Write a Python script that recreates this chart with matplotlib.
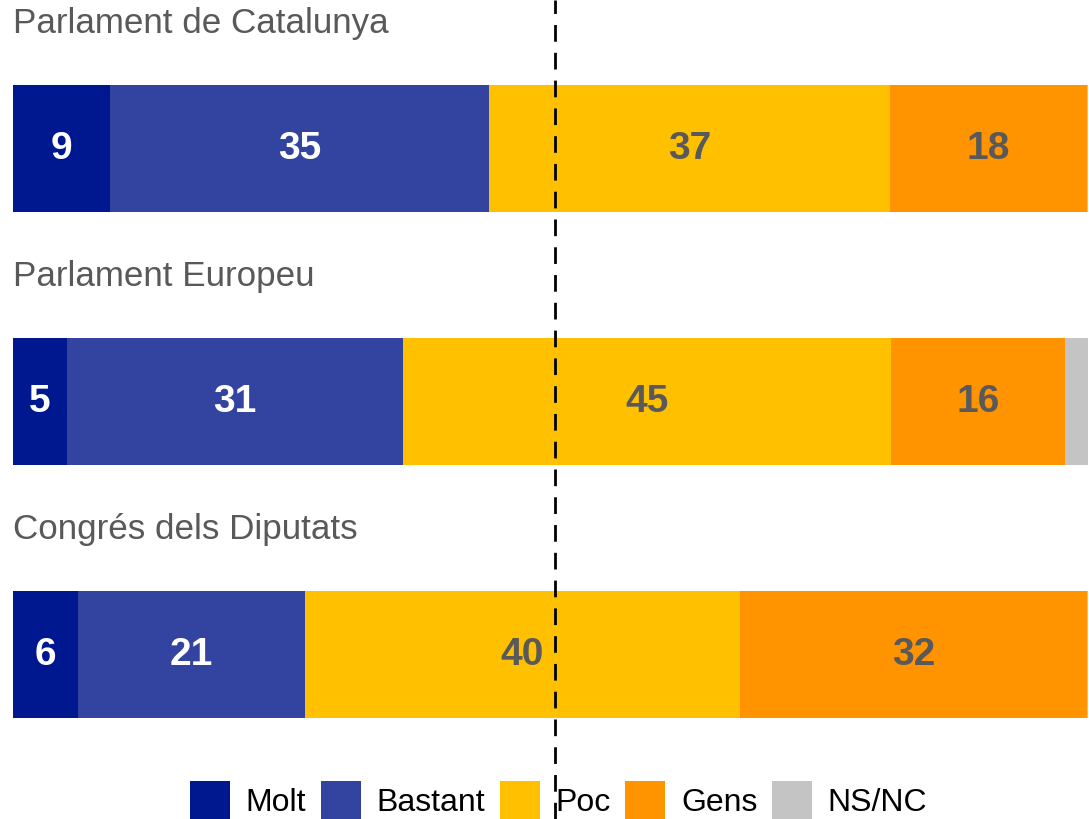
import numpy as np
import matplotlib.pyplot as plt
from matplotlib.patches import Patch

plt.rcParams["font.family"] = ["Liberation Sans", "DejaVu Sans"]

# data (percent)
institutions = ["Parlament de Catalunya", "Parlament Europeu", "Congrés dels Diputats"]
categories = ["Molt", "Bastant", "Poc", "Gens", "NS/NC"]
molt = [9.0, 5.0, 6.0]
bastant = [35.3, 31.3, 21.2]
poc = [37.3, 45.4, 40.4]
gens = [18.3, 16.2, 32.3]
nsnc = [0.1, 2.1, 0.1]
reference = 50.4

colors = ["#00188f", "#3344a0", "#ffc000", "#ff9300", "#c4c4c4"]
label_colors = ["white", "white", "#595959", "#595959", None]
gray = "#595959"

fig = plt.figure(figsize=(10.89, 8.19), dpi=100)
ax = fig.add_axes([0, 0, 1, 1])

y = np.arange(len(institutions))
series = [molt, bastant, poc, gens, nsnc]
left = np.zeros(len(institutions))
for vals, col, lc in zip(series, colors, label_colors):
    vals = np.array(vals)
    ax.barh(y, vals, left=left, height=0.502, color=col, edgecolor="none")
    if lc is not None:
        for yi, (l, v) in enumerate(zip(left, vals)):
            ax.text(l + v / 2, yi, f"{round(v):d}", ha="center", va="center",
                    fontsize=28, fontweight="bold", color=lc)
    left += vals

for yi, name in enumerate(institutions):
    ax.text(0, yi - 0.495, name, ha="left", va="center", fontsize=25.2, color=gray)

ax.axvline(reference, color="black", linestyle=(0, (6, 4)), linewidth=2)

ax.set_xlim(-13 / 10.75, (1089 - 13) / 10.75)
ax.set_ylim(2.650, -0.587)
ax.axis("off")

handles = [Patch(facecolor=c, edgecolor="none") for c in colors]
leg = fig.legend(handles, categories, loc="lower center", ncol=5,
                 bbox_to_anchor=(0.513, 0.0), frameon=False, fontsize=23,
                 handlelength=1.25, handleheight=1.45, handletextpad=0.5,
                 columnspacing=0.45, borderpad=0.0, borderaxespad=0.0)

fig.savefig("out.png", dpi=100)
